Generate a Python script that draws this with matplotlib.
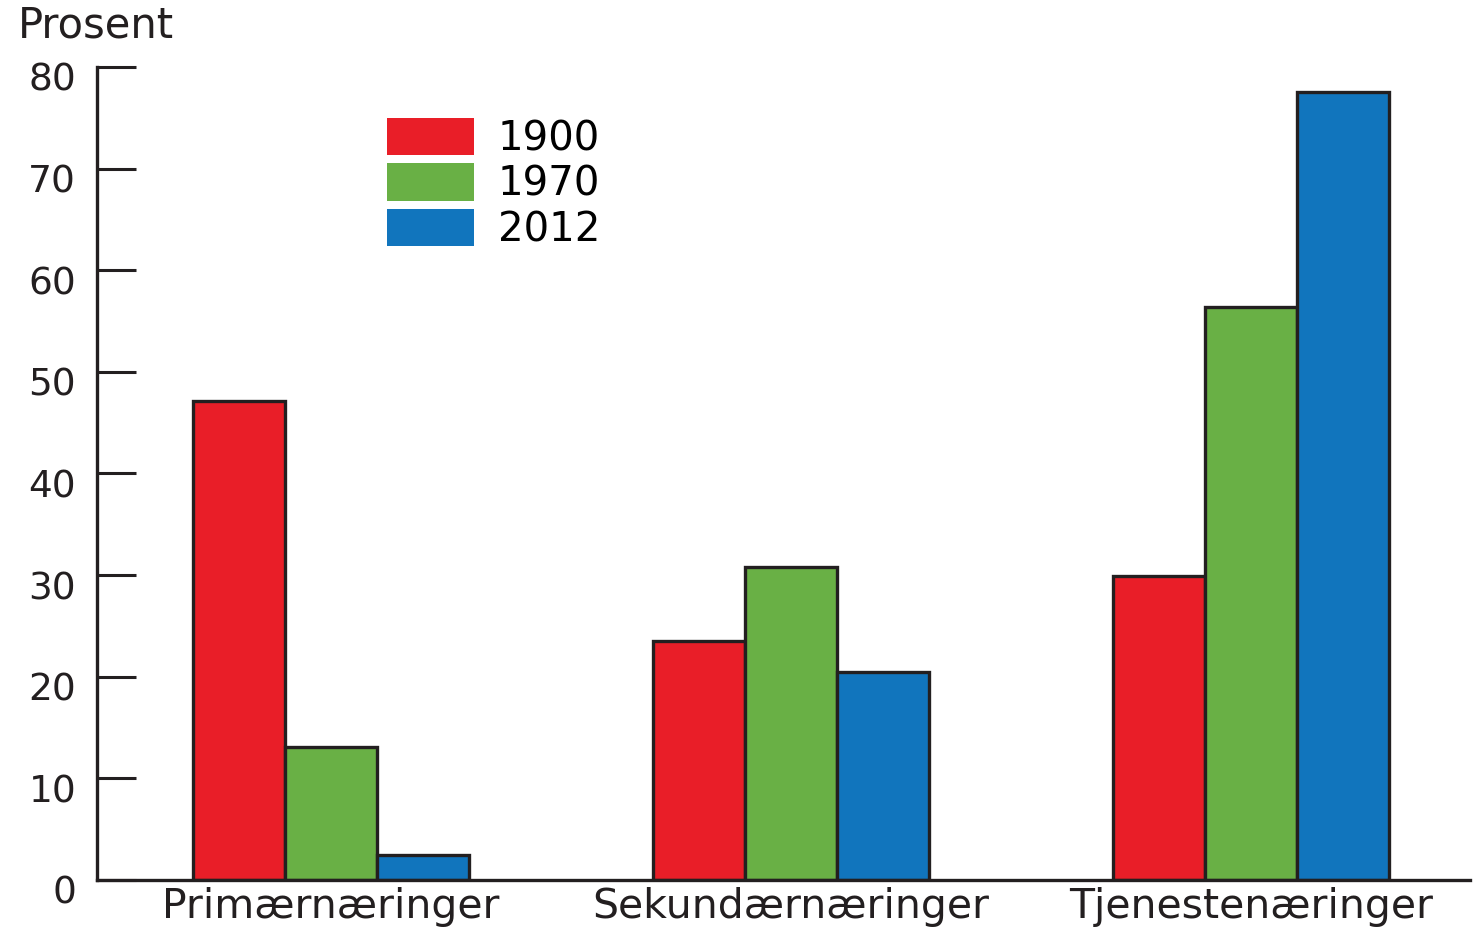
import matplotlib
matplotlib.use("Agg")
import matplotlib.pyplot as plt
import matplotlib.transforms as mtransforms
import numpy as np

categories = ["Primærnæringer", "Sekundærnæringer", "Tjenestenæringer"]
years = ["1900", "1970", "2012"]
v1900 = [47.1, 23.5, 29.9]
v1970 = [13.1, 30.8, 56.4]
v2012 = [2.5, 20.5, 77.5]
yticks = [0, 10, 20, 30, 40, 50, 60, 70, 80]

colors = ["#E91E28", "#69B045", "#1175BD"]
edge = "#231F20"

plt.rcParams['font.family'] = ['DejaVu Sans']

W, H = 1473, 932
fig = plt.figure(figsize=(W / 100, H / 100), dpi=100)
ax = fig.add_axes([97 / W, 52 / H, (1470 - 97) / W, (880 - 67) / H])

x = np.arange(len(categories))
width = 0.2
series = [v1900, v1970, v2012]
for i, (vals, c, lab) in enumerate(zip(series, colors, years)):
    ax.bar(x + (i - 1) * width, vals, width, color=c, edgecolor=edge,
           linewidth=2.4, label=lab, zorder=2)

ax.set_xlim(-0.509, 2.476)
ax.set_ylim(0, 80)
ax.set_yticks(yticks)
ax.set_xticks(x)
ax.set_xticklabels(categories)

for s in ["top", "right"]:
    ax.spines[s].set_visible(False)
for s in ["left", "bottom"]:
    ax.spines[s].set_linewidth(2.4)
    ax.spines[s].set_color(edge)
    ax.spines[s].set_zorder(3)

ax.tick_params(axis="y", direction="in", length=28, width=2.2, color=edge,
               labelsize=27, pad=15, labelcolor="#231F20")
ax.tick_params(axis="x", length=0, labelsize=29.5, pad=5, labelcolor="#231F20")

offset = mtransforms.ScaledTranslation(0, -10 / 100, fig.dpi_scale_trans)
for lbl in ax.get_yticklabels():
    lbl.set_transform(lbl.get_transform() + offset)

fig.text(18 / W, 1 - 26 / H, "Prosent", fontsize=30, color="#231F20",
         ha="left", va="center")

leg = ax.legend(loc="upper left", bbox_to_anchor=(387 / W, 1 - 118 / H),
                bbox_transform=fig.transFigure, frameon=False, fontsize=29,
                handlelength=2.17, handleheight=1.05, labelspacing=0.1,
                handletextpad=0.58, borderpad=0, borderaxespad=0)
for h in leg.legend_handles:
    h.set_linewidth(0)

fig.savefig("out.png", dpi=100)
